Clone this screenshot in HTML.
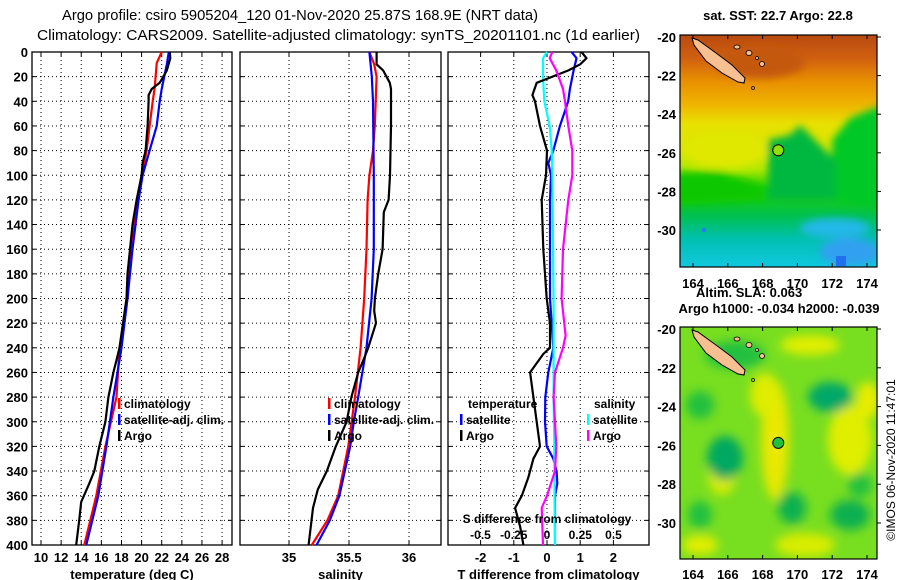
<!DOCTYPE html>
<html><head><meta charset="utf-8"><style>
html,body{margin:0;padding:0;background:#fff;}
svg{display:block;font-family:"Liberation Sans",sans-serif;}
.t{font-weight:bold;font-size:13px;}
.lg{font-weight:bold;font-size:12px;}
</style></head><body>
<svg id="root" xmlns="http://www.w3.org/2000/svg" width="900" height="580" viewBox="0 0 900 580">
<defs>
<filter id="blur6" x="-30%" y="-30%" width="160%" height="160%"><feGaussianBlur stdDeviation="5"/></filter>
<filter id="blur4" x="-30%" y="-30%" width="160%" height="160%"><feGaussianBlur stdDeviation="4"/></filter>
<clipPath id="clipTop"><rect x="680" y="35" width="197" height="232"/></clipPath>
<clipPath id="clipBot"><rect x="680" y="327" width="197" height="232"/></clipPath>
<linearGradient id="sstGrad" x1="0" y1="35" x2="0" y2="267" gradientUnits="userSpaceOnUse">
<stop offset="0" stop-color="#b84a10"/><stop offset="0.1" stop-color="#d06010"/>
<stop offset="0.2" stop-color="#e89000"/><stop offset="0.3" stop-color="#f0b400"/>
<stop offset="0.38" stop-color="#e8e000"/><stop offset="0.5" stop-color="#d8e800"/>
<stop offset="0.58" stop-color="#b0e800"/><stop offset="0.66" stop-color="#20d000"/>
<stop offset="0.78" stop-color="#00c050"/><stop offset="0.88" stop-color="#00c0b0"/>
<stop offset="1" stop-color="#10c8e0"/>
</linearGradient>
</defs>
<text x="62" y="20" font-size="15" textLength="476" lengthAdjust="spacingAndGlyphs">Argo profile: csiro 5905204_120 01-Nov-2020 25.87S 168.9E (NRT data)</text>
<text x="37" y="40" font-size="15" textLength="603" lengthAdjust="spacingAndGlyphs">Climatology: CARS2009. Satellite-adjusted climatology: synTS_20201101.nc (1d earlier)</text>

<!-- maps -->
<g>
<text class="t" x="778" y="20" text-anchor="middle">sat. SST: 22.7 Argo: 22.8</text>
<g clip-path="url(#clipTop)">
<rect x="680" y="35" width="197" height="232" fill="url(#sstGrad)"/>
<g filter="url(#blur4)">
<path d="M832 200 L832 140 L850 118 L882 105 L882 210 Z" fill="#00c828"/>
<path d="M768 200 L768 140 L790 135 L800 125 L815 140 L835 160 L835 200 Z" fill="#00b840"/>
<path d="M675 172 L720 172 L760 185 L770 200 L675 205 Z" fill="#10c800"/>
<ellipse cx="725" cy="150" rx="40" ry="18" fill="#e0e800"/>
<ellipse cx="850" cy="252" rx="30" ry="14" fill="#30a0f0"/>
<ellipse cx="835" cy="228" rx="35" ry="10" fill="#20b8e8"/>
<ellipse cx="760" cy="62" rx="45" ry="16" fill="#c45810"/>
</g>
<rect x="702" y="228" width="4" height="4" fill="#2080f0"/>
<rect x="836" y="256" width="10" height="10" fill="#2070f0"/>
</g>
<rect x="680" y="35" width="197" height="232" fill="none" stroke="#000" stroke-width="1.2"/>
</g>
<g>
<text class="t" x="696" y="297">Altim. SLA: 0.063</text>
<text class="t" x="779" y="313" text-anchor="middle">Argo h1000: -0.034 h2000: -0.039</text>
<g clip-path="url(#clipBot)">
<rect x="680" y="327" width="197" height="232" fill="#78de20"/>
<g filter="url(#blur6)">
<ellipse cx="775" cy="440" rx="14" ry="60" fill="#e8e800"/>
<ellipse cx="765" cy="395" rx="15" ry="22" fill="#e0ec00"/>
<ellipse cx="850" cy="440" rx="22" ry="35" fill="#e0ee00"/>
<ellipse cx="868" cy="400" rx="12" ry="18" fill="#e8ec00"/>
<ellipse cx="722" cy="475" rx="14" ry="20" fill="#d8ec00"/>
<ellipse cx="805" cy="545" rx="30" ry="12" fill="#d8ec00"/>
<ellipse cx="700" cy="545" rx="18" ry="10" fill="#e0ee00"/>
<ellipse cx="810" cy="345" rx="30" ry="10" fill="#e0ee00"/>
<ellipse cx="830" cy="397" rx="22" ry="15" fill="#00a868"/>
<ellipse cx="725" cy="458" rx="18" ry="22" fill="#00a860"/>
<ellipse cx="792" cy="508" rx="14" ry="16" fill="#10b050"/>
<ellipse cx="850" cy="515" rx="20" ry="15" fill="#10b050"/>
<ellipse cx="700" cy="405" rx="14" ry="14" fill="#20c040"/>
<ellipse cx="735" cy="355" rx="30" ry="14" fill="#20c040"/>
<ellipse cx="860" cy="485" rx="12" ry="12" fill="#20c040"/>
<ellipse cx="700" cy="515" rx="12" ry="14" fill="#20c040"/>
</g>
</g>
<rect x="680" y="327" width="197" height="232" fill="none" stroke="#000" stroke-width="1.2"/>
</g>
<text transform="translate(895,460) rotate(-90)" text-anchor="middle" font-size="12">©IMOS 06-Nov-2020 11:47:01</text>

<g id="charts"></g>
</svg>
<script>
// ---- data ----
const depthTicks = [0,20,40,60,80,100,120,140,160,180,200,220,240,260,280,300,320,340,360,380,400];
const tempTicks = [10,12,14,16,18,20,22,24,26,28];
const salTicks = [35,35.5,36];
const salTickLabels = ["35","35.5","36"];
const tdTicks = [-2,-1,0,1,2];
const sdTicks = [-0.5,-0.25,0,0.25,0.5];
const sdTickLabels = ["-0.5","-0.25","0","0.25","0.5"];

const tClimDepth = [0,9,29,40,60,80,100,120,160,200,240,280,320,360,400];
const tClimVal   = [22.0,21.5,21.3,21.1,20.8,20.5,20.0,19.6,19.0,18.6,17.8,17.5,16.4,15.5,14.3];
const tSatDepth  = [0,10,30,40,60,80,100,120,160,200,240,280,320,360,400];
const tSatVal    = [22.7,22.5,22.0,21.8,21.5,20.8,20.1,19.7,19.1,18.6,18.0,17.2,16.5,15.7,14.5];
const tArgoDepth = [0,5,15,25,30,35,40,60,80,90,100,120,140,180,200,240,250,260,280,300,320,340,350,365,380,400];
const tArgoVal   = [22.8,22.85,22.5,21.8,21.0,20.7,20.7,20.6,20.4,20.1,20.0,19.5,19.1,18.6,18.5,17.8,17.5,17.2,16.7,16.4,15.8,15.3,14.8,14.0,13.8,13.5];

const sClimDepth = [0,10,20,60,80,100,120,160,200,240,280,320,360,380,400];
const sClimVal   = [35.67,35.71,35.73,35.715,35.70,35.67,35.655,35.646,35.627,35.597,35.55,35.494,35.41,35.32,35.19];
const sSatDepth  = [0,20,40,100,160,200,240,280,300,320,360,380,400];
const sSatVal    = [35.67,35.69,35.70,35.707,35.707,35.688,35.646,35.577,35.54,35.51,35.42,35.34,35.23];
const sArgoDepth = [0,10,15,25,30,60,100,120,130,160,180,200,210,220,240,250,260,280,300,320,340,355,370,400];
const sArgoVal   = [35.73,35.73,35.785,35.84,35.85,35.85,35.842,35.83,35.79,35.78,35.743,35.716,35.71,35.725,35.66,35.62,35.577,35.52,35.48,35.39,35.315,35.24,35.20,35.163];

const tdSatDepth = [0,5,15,30,40,60,80,90,100,120,200,240,260,280,300,320,330,340,350,360,400];
const tdSatVal   = [0.74,0.89,0.8,0.69,0.64,0.39,0.19,0.04,0.12,0.09,0.09,0.19,0.04,-0.05,-0.06,-0.01,0.19,0.29,0.31,0.24,0.24];
const tdArgoDepth = [0,5,10,15,25,35,40,60,80,100,120,160,200,220,240,245,260,280,300,320,330,345,360,370,385,400];
const tdArgoVal   = [1.04,1.19,1.0,0.64,-0.31,-0.44,-0.36,-0.21,0,-0.03,-0.16,-0.11,-0.01,0.09,0.09,-0.11,-0.51,-0.41,-0.31,-0.21,-0.41,-0.56,-0.76,-0.96,-0.81,-0.71];
const sdSatDepth = [0,5,20,40,50,60,80,100,200,280,320,400];
const sdSatVal   = [0,-0.03,-0.03,-0.02,0,0.02,0.035,0.04,0.05,0.05,0.055,0.06];
const sdArgoDepth = [0,5,15,30,40,60,80,100,120,160,200,230,240,260,280,300,320,340,360,370,400];
const sdArgoVal   = [0.04,0.02,0.07,0.12,0.135,0.16,0.19,0.19,0.16,0.12,0.11,0.14,0.12,0.06,0.05,0.06,0.07,0.06,0,-0.04,-0.03];

const lonTicks = [164,166,168,170,172,174];
const latTicks = [-20,-22,-24,-26,-28,-30];
const argoLon = 168.9, argoLat = -25.87;

// ---- helpers ----
const NS = "http://www.w3.org/2000/svg";
const charts = document.getElementById('charts');
function mk(tag, attrs, parent){ const e=document.createElementNS(NS,tag); for(const k in attrs) e.setAttribute(k,attrs[k]); (parent||charts).appendChild(e); return e; }
const TOP=52, BOT=545;
const yD = d => TOP + d*(BOT-TOP)/400;

function panel(name, x0, x1, xScale, xticks, xlabels, xtitle, showDepthLabels){
  const g = mk('g',{});
  
  
  depthTicks.forEach(d=>{
    if(d>0 && d<400) mk('line',{x1:x0,x2:x1,y1:yD(d),y2:yD(d),stroke:'#000','stroke-width':1,'stroke-dasharray':'1,3'},g);
    mk('line',{x1:x0,x2:x0+4,y1:yD(d),y2:yD(d),stroke:'#000'},g);
    mk('line',{x1:x1-4,x2:x1,y1:yD(d),y2:yD(d),stroke:'#000'},g);
    if(showDepthLabels){
      const t = mk('text',{x:x0-4,y:yD(d)+5,'text-anchor':'end','class':'t'},g);
      
      
      t.textContent = d;
    }
  });
  xticks.forEach((v,i)=>{
    const x = xScale(v);
    mk('line',{x1:x,x2:x,y1:TOP,y2:BOT,stroke:'#000','stroke-width':1,'stroke-dasharray':'1,3'},g);
    mk('line',{x1:x,x2:x,y1:TOP,y2:TOP+4,stroke:'#000'},g);
    mk('line',{x1:x,x2:x,y1:BOT-4,y2:BOT,stroke:'#000'},g);
    const t = mk('text',{x:x,y:562,'text-anchor':'middle','class':'t'},g);
    
    
    t.textContent = xlabels[i];
  });
  mk('rect',{x:x0,y:TOP,width:x1-x0,height:BOT-TOP,fill:'none',stroke:'#000','stroke-width':1.3},g);
  const tt = mk('text',{x:(x0+x1)/2,y:579,'text-anchor':'middle','class':'t'},g);
  
  
  tt.textContent = xtitle;
  return g;
}
function series(name, depths, vals, xScale, color, parent, x0, x1){
  const pts = depths.map((d,i)=>[Math.max(x0,Math.min(x1,xScale(vals[i]))), yD(d)]);
  let dstr = 'M'+pts[0][0].toFixed(1)+' '+pts[0][1].toFixed(1);
  for(let i=1;i<pts.length;i++){ dstr += ' L'+pts[i][0].toFixed(1)+' '+pts[i][1].toFixed(1); }
  const p = mk('path',{d:dstr,fill:'none',stroke:color,'stroke-width':2.2,'stroke-linejoin':'round'},parent);
  
  
}
function legendRow(parent, x, y, color, label, name){
  const g = mk('g',{},parent);
  
  
  if(color) mk('rect',{x:x,y:y-6,width:2.5,height:11,fill:color},g);
  const t = mk('text',{x:x+(color?6:0),y:y+4,'class':'lg'},g);
  t.textContent = label;
}

// temperature panel
const xT = v => 41 + (v-10)*10.06;
const gT = panel('temperature-panel', 32, 232, xT, tempTicks, tempTicks.map(String), 'temperature (deg C)', true);
series('temperature-climatology-line', tClimDepth, tClimVal, xT, '#ff0000', gT, 32, 232);
series('temperature-satellite-line', tSatDepth, tSatVal, xT, '#0000ff', gT, 32, 232);
series('temperature-argo-line', tArgoDepth, tArgoVal, xT, '#000000', gT, 32, 232);
legendRow(gT, 118, 404, '#ff0000', 'climatology', 'legend-climatology');
legendRow(gT, 118, 420, '#0000ff', 'satellite-adj. clim.', 'legend-satellite-adj');
legendRow(gT, 118, 436, '#000000', 'Argo', 'legend-argo');

// salinity panel
const xS = v => 289 + (v-35)*120;
const gS = panel('salinity-panel', 240, 441, xS, salTicks, salTickLabels, 'salinity', false);
series('salinity-climatology-line', sClimDepth, sClimVal, xS, '#ff0000', gS, 240, 441);
series('salinity-satellite-line', sSatDepth, sSatVal, xS, '#0000ff', gS, 240, 441);
series('salinity-argo-line', sArgoDepth, sArgoVal, xS, '#000000', gS, 240, 441);
legendRow(gS, 328, 404, '#ff0000', 'climatology', 'legend-climatology');
legendRow(gS, 328, 420, '#0000ff', 'satellite-adj. clim.', 'legend-satellite-adj');
legendRow(gS, 328, 436, '#000000', 'Argo', 'legend-argo');

// difference panel
const xTD = v => 547 + v*33.2;
const xSD = v => 547 + v*133;
const gD = panel('difference-panel', 448, 649, xTD, tdTicks, tdTicks.map(String), 'T difference from climatology', false);
series('temp-diff-satellite-line', tdSatDepth, tdSatVal, xTD, '#0000ff', gD, 448, 649);
series('sal-diff-satellite-line', sdSatDepth, sdSatVal, xSD, '#00ffff', gD, 448, 649);
series('temp-diff-argo-line', tdArgoDepth, tdArgoVal, xTD, '#000000', gD, 448, 649);
series('sal-diff-argo-line', sdArgoDepth, sdArgoVal, xSD, '#ff00ff', gD, 448, 649);
legendRow(gD, 468, 404, null, 'temperature', 'legend-temperature-header');
legendRow(gD, 460, 420, '#0000ff', 'satellite', 'legend-temp-satellite');
legendRow(gD, 460, 436, '#000000', 'Argo', 'legend-temp-argo');
legendRow(gD, 594, 404, null, 'salinity', 'legend-salinity-header');
legendRow(gD, 587, 420, '#00ffff', 'satellite', 'legend-sal-satellite');
legendRow(gD, 587, 436, '#ff00ff', 'Argo', 'legend-sal-argo');
const sdt = mk('text',{x:547,y:523,'text-anchor':'middle','class':'lg'},gD);


sdt.textContent = 'S difference from climatology';
sdTicks.forEach((v,i)=>{
  const t = mk('text',{x:xSD(v),y:539,'text-anchor':'middle','class':'lg'},gD);
  
  
  t.textContent = sdTickLabels[i];
});

// map axes
function mapAxes(name, top, bottom, latY0, latStep, lonLabelY){
  const g = mk('g',{});
  
  
  const lonX = l => 693 + (l-164)*17.4;
  lonTicks.forEach(l=>{
    const x = lonX(l);
    mk('line',{x1:x,x2:x,y1:top,y2:top+4,stroke:'#000'},g);
    mk('line',{x1:x,x2:x,y1:bottom-4,y2:bottom,stroke:'#000'},g);
    const t = mk('text',{x:x,y:lonLabelY,'text-anchor':'middle','class':'t'},g);
    
    
    t.textContent = l;
  });
  latTicks.forEach(la=>{
    const y = latY0 + (-20-la)*latStep;
    mk('line',{x1:877,x2:881,y1:y,y2:y,stroke:'#000'},g);
    const t = mk('text',{x:676,y:y+5,'text-anchor':'end','class':'t'},g);
    
    
    t.textContent = la;
  });
  const dy = latY0 - 37;
  const isl = mk('polygon',{points:[[692,38],[698,40],[716,53],[732,65],[745,78],[744,83],[738,82],[722,73],[706,61],[694,45]].map(p=>p[0]+','+(p[1]+dy)).join(' '),fill:'#f8c090',stroke:'#000','stroke-width':1},g);
  
  
  [[737,47,3,2],[749,53,3,2.5],[757,58,1.5,1.5],[762,64,2.5,2.5]].forEach(p=>mk('ellipse',{cx:p[0],cy:p[1]+dy,rx:p[2],ry:p[3],fill:'#f8c090',stroke:'#000','stroke-width':0.8},g));
  mk('circle',{cx:753,cy:88+dy,r:1.5,fill:'none',stroke:'#000','stroke-width':0.8},g);
  const cx = lonX(argoLon), cy = latY0 + (-20-argoLat)*latStep;
  const c = mk('circle',{cx:cx,cy:cy,r:5.5,fill: top<100 ? '#90e000' : '#20c040',stroke:'#000','stroke-width':1},g);
  
  
}
mapAxes('sst-map-axes', 35, 267, 37, 19.3, 288);
mapAxes('sla-map-axes', 327, 559, 329, 19.4, 579);
</script>
</body></html>
